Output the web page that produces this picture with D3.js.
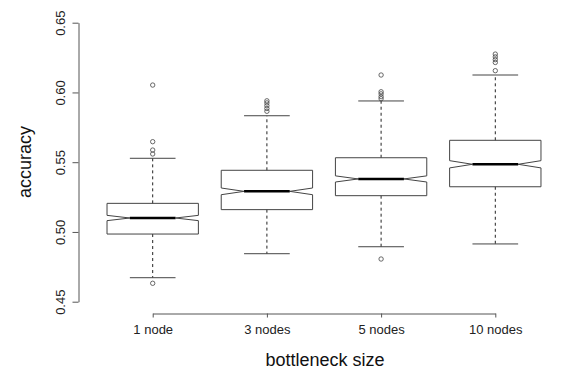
<!DOCTYPE html>
<html>
<head>
<meta charset="utf-8">
<script src="https://cdn.jsdelivr.net/npm/d3@7"></script>
<style>
  body { margin: 0; background: #fff; }
  svg { display: block; font-family: "Liberation Sans", Arial, sans-serif; }
</style>
</head>
<body>
<div id="chart"></div>
<script>
// ============================================
// Notched boxplots — accuracy by bottleneck size
// ============================================
const categories = ['1 node', '3 nodes', '5 nodes', '10 nodes'];
const lowerWhisker = [0.4672, 0.4844, 0.4894, 0.4914];
const q1 = [0.4985, 0.5160, 0.5260, 0.5324];
const medians = [0.5100, 0.5291, 0.5380, 0.5485];
const q3 = [0.5205, 0.5442, 0.5532, 0.5657];
const upperWhisker = [0.5528, 0.5833, 0.5939, 0.6125];
const notchLow = [0.5081, 0.5267, 0.5358, 0.5459];
const notchHigh = [0.5119, 0.5315, 0.5402, 0.5511];
const outliers = [
    [0.6053, 0.5647, 0.5587, 0.5559, 0.4632],
    [0.5940, 0.5925, 0.5905, 0.5885, 0.5865],
    [0.6125, 0.6005, 0.5990, 0.5970, 0.5955, 0.4806],
    [0.6275, 0.6255, 0.6235, 0.6215, 0.6156]
];
const yTicks = [0.45, 0.50, 0.55, 0.60, 0.65];

const width = 582, height = 380;

const svg = d3.select('#chart')
    .append('svg')
    .attr('width', width)
    .attr('height', height);

const x = d3.scalePoint()
    .domain(categories)
    .range([152.7, 495.3]);

const y = d3.scaleLinear()
    .domain([0.45, 0.65])
    .range([301.7, 22.7]);

const boxW = x.step() * 0.8;

// Axes
const yAxis = svg.append('g')
    .attr('transform', 'translate(78.5,0)')
    .call(d3.axisLeft(y).tickValues(yTicks).tickSize(6).tickSizeOuter(0).tickFormat(d3.format('.2f')));
yAxis.selectAll('line, path').attr('stroke', '#555');
yAxis.selectAll('text')
    .attr('x', null).attr('dy', null)
    .attr('text-anchor', 'middle')
    .attr('transform', 'translate(-14,0) rotate(-90)')
    .style('font-size', '13px')
    .attr('fill', '#222');

const xAxis = svg.append('g')
    .attr('transform', 'translate(0,313.5)')
    .call(d3.axisBottom(x).tickSize(4).tickSizeOuter(0));
xAxis.selectAll('line, path').attr('stroke', '#555');
xAxis.selectAll('text')
    .attr('y', 20).attr('dy', null)
    .style('font-size', '13px')
    .attr('fill', '#222');

// Axis titles
svg.append('text')
    .attr('transform', 'translate(31,162) rotate(-90)')
    .attr('text-anchor', 'middle')
    .style('font-size', '18px')
    .attr('fill', '#111')
    .text('accuracy');

svg.append('text')
    .attr('x', 325)
    .attr('y', 366)
    .attr('text-anchor', 'middle')
    .style('font-size', '18px')
    .attr('fill', '#111')
    .text('bottleneck size');

// Boxes
const boxes = categories.map((c, i) => ({
    cat: c, lw: lowerWhisker[i], q1: q1[i], med: medians[i], q3: q3[i],
    uw: upperWhisker[i], nlo: notchLow[i], nhi: notchHigh[i], out: outliers[i]
}));

const g = svg.append('g');

const box = g.selectAll('.box')
    .data(boxes)
    .enter()
    .append('g')
    .attr('class', 'box');

// whiskers
box.append('line')
    .attr('x1', d => x(d.cat)).attr('x2', d => x(d.cat))
    .attr('y1', d => y(d.q3)).attr('y2', d => y(d.uw))
    .attr('stroke', '#222').attr('stroke-dasharray', '3,3');
box.append('line')
    .attr('x1', d => x(d.cat)).attr('x2', d => x(d.cat))
    .attr('y1', d => y(d.q1)).attr('y2', d => y(d.lw))
    .attr('stroke', '#222').attr('stroke-dasharray', '3,3');

// staples
['uw', 'lw'].forEach(k => {
    box.append('line')
        .attr('x1', d => x(d.cat) - boxW / 4).attr('x2', d => x(d.cat) + boxW / 4)
        .attr('y1', d => y(d[k])).attr('y2', d => y(d[k]))
        .attr('stroke', '#444');
});

// notched box outline
box.append('path')
    .attr('d', d => {
        const cx = x(d.cat), l = cx - boxW / 2, r = cx + boxW / 2;
        const cl = cx - boxW / 4, cr = cx + boxW / 4;
        const pts = [
            [l, y(d.q1)], [l, y(d.nlo)], [cl, y(d.med)], [l, y(d.nhi)], [l, y(d.q3)],
            [r, y(d.q3)], [r, y(d.nhi)], [cr, y(d.med)], [r, y(d.nlo)], [r, y(d.q1)]
        ];
        return d3.line()(pts) + 'Z';
    })
    .attr('fill', 'none')
    .attr('stroke', '#444');

// median
box.append('line')
    .attr('x1', d => x(d.cat) - boxW / 4).attr('x2', d => x(d.cat) + boxW / 4)
    .attr('y1', d => y(d.med)).attr('y2', d => y(d.med))
    .attr('stroke', '#000').attr('stroke-width', 2.5);

// outliers
box.selectAll('circle')
    .data(d => d.out.map(v => ({ cat: d.cat, v })))
    .enter()
    .append('circle')
    .attr('cx', d => x(d.cat))
    .attr('cy', d => y(d.v))
    .attr('r', 2.2)
    .attr('fill', 'none')
    .attr('stroke', '#444')
    .attr('stroke-width', 0.8);
</script>
</body>
</html>
